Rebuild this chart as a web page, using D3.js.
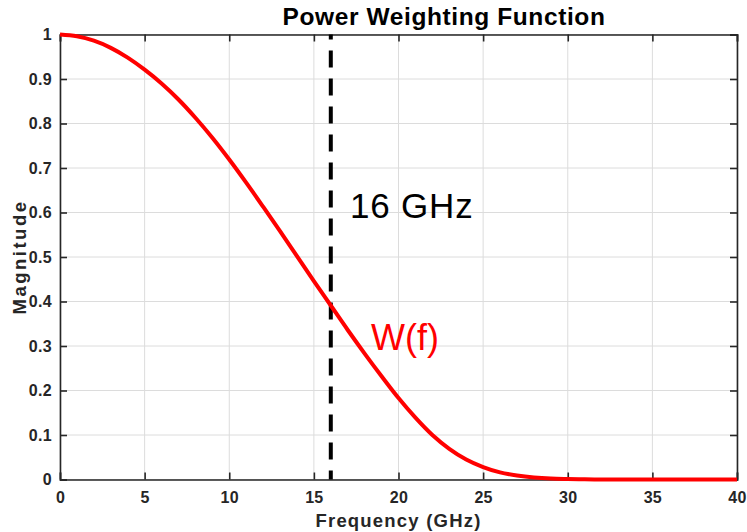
<!DOCTYPE html>
<html>
<head>
<meta charset="utf-8">
<script src="https://cdn.jsdelivr.net/npm/d3@7"></script>
<style>
  body { margin: 0; background: #fff; }
  svg { display: block; }
  text { font-family: Arial, "Liberation Sans", Helvetica, sans-serif; }
</style>
</head>
<body>
<svg id="chart" width="747" height="532"></svg>
<script>
// ---- data ----
const freq = [0,1,2,3,4,5,6,7,8,9,10,11,12,13,14,15,16,17,18,19,20,21,22,23,24,25,26,27,28,29,30,31,32,33,34,35,36,37,38,39,40];
const weight = [1.000,0.996,0.986,0.970,0.948,0.921,0.890,0.854,0.813,0.768,0.719,0.667,0.613,0.558,0.502,0.446,0.391,0.336,0.283,0.232,0.183,0.139,0.100,0.069,0.045,0.028,0.016,0.009,0.0045,0.002,0.001,0.0004,0.0001,0,0,0,0,0,0,0,0];
const cutoff = 16;
const xTicks = [0,5,10,15,20,25,30,35,40];
const yTicks = [0,0.1,0.2,0.3,0.4,0.5,0.6,0.7,0.8,0.9,1];
const titleText = "Power Weighting Function";
const xLabel = "Frequency (GHz)";
const yLabel = "Magnitude";
const cutoffLabel = "16 GHz";
const curveLabel = "W(f)";

// ---- layout ----
const svg = d3.select("#chart");
const L = 60, R = 737, T = 34.5, B = 479.5;
const x = d3.scaleLinear().domain([0, 40]).range([L, R]);
const y = d3.scaleLinear().domain([0, 1]).range([B, T]);
const axisCol = "#262626";

// grid
const g = svg.append("g");
g.selectAll(".vg").data(xTicks).join("line")
  .attr("x1", d => x(d)).attr("x2", d => x(d)).attr("y1", T).attr("y2", B)
  .attr("stroke", "#dcdcdc").attr("stroke-width", 1);
g.selectAll(".hg").data(yTicks).join("line")
  .attr("x1", L).attr("x2", R).attr("y1", d => y(d)).attr("y2", d => y(d))
  .attr("stroke", "#dcdcdc").attr("stroke-width", 1);

// axes
function styleAxis(sel) {
  sel.attr("font-size", 16).attr("font-family", "Arial, 'Liberation Sans', sans-serif").attr("font-weight", "bold");
  sel.select(".domain").attr("stroke", axisCol).attr("stroke-width", 1.6);
  sel.selectAll(".tick line").attr("stroke", axisCol).attr("stroke-width", 1.6);
  sel.selectAll(".tick text").attr("fill", axisCol)
    .attr("font-size", 16).attr("font-weight", "bold").attr("letter-spacing", "0.3px");
}
const xAxis = svg.append("g").attr("transform", `translate(0,${B})`)
  .call(d3.axisBottom(x).tickValues(xTicks).tickSize(-7).tickPadding(12).tickFormat(d3.format("d")));
styleAxis(xAxis);
const xTop = svg.append("g").attr("transform", `translate(0,${T})`)
  .call(d3.axisTop(x).tickValues(xTicks).tickSize(-7).tickFormat(""));
styleAxis(xTop);
const yAxis = svg.append("g").attr("transform", `translate(${L},0)`)
  .call(d3.axisLeft(y).tickValues(yTicks).tickSize(-7).tickPadding(8)
    .tickFormat(d => d === 0 || d === 1 ? d3.format("d")(d) : d3.format(".1f")(d)));
styleAxis(yAxis);
const yRight = svg.append("g").attr("transform", `translate(${R},0)`)
  .call(d3.axisRight(y).tickValues(yTicks).tickSize(-7).tickFormat(""));
styleAxis(yRight);

// cutoff dashed line
svg.append("line")
  .attr("x1", x(cutoff)).attr("x2", x(cutoff)).attr("y1", y(1)).attr("y2", y(0))
  .attr("stroke", "#000").attr("stroke-width", 4)
  .attr("stroke-dasharray", "17,11").attr("stroke-dashoffset", 12);

// curve
const line = d3.line().x((d, i) => x(freq[i])).y(d => y(d)).curve(d3.curveMonotoneX);
svg.append("path").datum(weight)
  .attr("d", line).attr("fill", "none")
  .attr("stroke", "#ff0000").attr("stroke-width", 4).attr("stroke-linejoin", "round");

// annotations
svg.append("text").attr("x", 350).attr("y", 218)
  .attr("font-size", 35).attr("letter-spacing", "0.8px").attr("fill", "#000").text(cutoffLabel);
svg.append("text").attr("x", 371).attr("y", 350)
  .attr("font-size", 36).attr("fill", "#ff0000").text(curveLabel);

// title & axis labels
svg.append("text").attr("x", 444).attr("y", 25).attr("text-anchor", "middle")
  .attr("font-size", 24.5).attr("font-weight", "bold").attr("letter-spacing", "0.6px")
  .attr("fill", "#000").text(titleText);
svg.append("text").attr("x", (L + R) / 2).attr("y", 527).attr("text-anchor", "middle")
  .attr("font-size", 18.5).attr("font-weight", "bold").attr("letter-spacing", "1.2px")
  .attr("fill", axisCol).text(xLabel);
svg.append("text").attr("transform", `translate(26,${(T + B) / 2}) rotate(-90)`)
  .attr("text-anchor", "middle")
  .attr("font-size", 18.5).attr("font-weight", "bold").attr("letter-spacing", "2.5px")
  .attr("fill", axisCol).text(yLabel);
</script>
</body>
</html>
